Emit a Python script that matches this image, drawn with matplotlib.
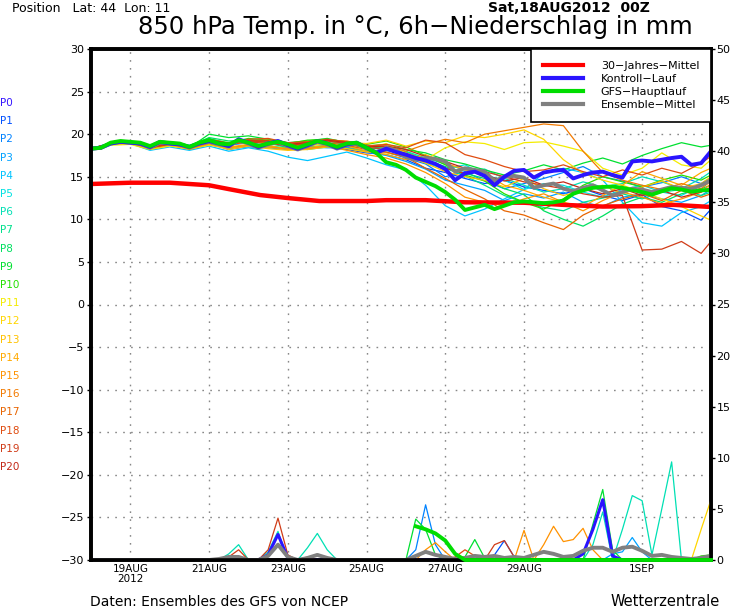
import numpy as np
import matplotlib
matplotlib.use("Agg")
import matplotlib.pyplot as plt

# time axis in days after 18AUG2012 00Z
t6 = np.arange(64) * 0.25
t12 = np.append(np.arange(32) * 0.5, 15.75)
clim_days = [0, 1, 2, 3, 3.5, 4.3, 5, 5.8, 7, 7.5, 8.5, 9.5, 11, 12, 13, 14, 14.8, 15.75]

# 850 hPa temperature
clim = [14.15, 14.3, 14.3, 14.0, 13.55, 12.85, 12.5, 12.15, 12.15, 12.25, 12.25, 12.0, 11.95, 11.7, 11.5, 11.55, 11.7, 11.45]

ens_mean = [18.3, 18.4, 18.9, 19.1, 19.0, 18.9, 18.4, 19.0, 18.9, 18.8, 18.4, 18.9, 19.1, 18.8, 18.6, 19.3,
            18.9, 18.4, 18.8, 19.1, 18.6, 18.2, 18.6, 19.1, 18.8, 18.3, 18.7, 18.9, 18.3, 17.9, 18.4, 18.1,
            17.3, 17.0, 17.2, 17.1, 16.8, 15.6, 16.0, 15.8, 15.6, 14.5, 15.0, 15.1, 14.9, 13.7, 14.0, 14.2,
            13.6, 13.3, 13.7, 14.0, 13.4, 12.8, 13.2, 13.6, 13.5, 13.2, 13.5, 13.8, 13.7, 13.6, 14.0, 14.6]

control = [18.3, 18.4, 18.9, 19.1, 19.0, 18.9, 18.5, 19.1, 18.9, 18.8, 18.5, 18.9, 19.2, 18.9, 18.6, 19.4,
           19.0, 18.5, 18.9, 19.2, 18.7, 18.3, 18.7, 19.2, 18.9, 18.4, 18.8, 19.0, 18.4, 17.8, 18.3, 17.9,
           17.6, 17.2, 16.9, 16.5, 15.9, 14.6, 15.4, 15.6, 15.1, 14.0, 15.0, 15.7, 15.8, 14.9, 15.5, 15.7,
           15.8, 14.8, 15.2, 15.5, 15.6, 15.2, 14.9, 16.8, 16.9, 16.8, 17.0, 17.2, 17.35, 16.4, 16.6, 18.0]

gfs = [18.3, 18.4, 19.0, 19.2, 19.1, 19.0, 18.6, 19.1, 19.0, 18.9, 18.5, 19.0, 19.3, 18.9, 18.8, 19.3,
       19.0, 18.6, 18.9, 19.1, 18.8, 18.4, 18.8, 19.2, 18.9, 18.5, 18.9, 19.0, 18.4, 17.8, 16.7, 16.4,
       15.8, 14.9, 14.4, 13.9, 13.2, 12.3, 11.1, 11.4, 11.7, 11.2, 11.6, 12.0, 12.1, 12.0, 11.9, 12.0,
       12.2, 13.0, 13.4, 13.7, 13.8, 13.85, 13.7, 13.45, 13.2, 12.9, 13.3, 13.65, 13.5, 13.25, 13.4, 13.45]

members = [
    [18.3, 18.9, 19.0, 18.2, 18.7, 18.3, 19.0, 18.2, 18.6, 18.5, 18.2, 18.3, 18.6, 18.2, 17.8, 17.6,
     17.0, 16.0, 15.5, 14.8, 14.2, 14.6, 13.8, 13.4, 13.0, 13.6, 12.8, 12.2, 12.9, 11.5, 11.0, 9.9, 11.2],
    [18.2, 18.8, 18.9, 18.3, 18.8, 18.5, 19.2, 18.7, 19.0, 19.1, 18.4, 18.8, 19.0, 18.5, 18.0, 17.9,
     17.2, 16.5, 15.0, 15.6, 14.5, 13.6, 14.2, 14.8, 15.5, 16.2, 15.0, 14.5, 13.8, 14.3, 15.0, 14.2, 14.9],
    [18.3, 19.0, 19.1, 18.5, 19.0, 18.2, 18.8, 18.3, 18.5, 18.4, 18.2, 18.5, 18.4, 18.4, 17.9, 17.5,
     16.8, 15.9, 14.6, 14.0, 13.4, 12.2, 13.0, 12.5, 13.2, 12.0, 11.5, 12.6, 13.0, 12.4, 12.0, 12.8, 13.5],
    [18.4, 18.8, 18.9, 18.1, 18.5, 18.1, 18.6, 18.0, 18.4, 18.0, 17.3, 16.9, 17.4, 17.9, 17.2, 16.4,
     15.8, 14.0, 11.6, 10.4, 11.2, 12.4, 13.5, 15.4, 16.0, 15.5, 14.6, 12.0, 9.6, 9.2, 10.8, 11.5, 12.2],
    [18.3, 18.9, 19.1, 18.6, 19.0, 18.6, 19.3, 18.9, 19.2, 19.0, 18.7, 18.9, 18.9, 19.0, 18.4, 18.2,
     17.5, 16.6, 15.9, 16.4, 15.2, 14.6, 13.5, 14.2, 14.0, 13.2, 12.6, 13.5, 14.0, 13.2, 12.8, 14.0, 14.6],
    [18.2, 18.8, 19.0, 18.4, 18.9, 18.5, 19.1, 18.6, 19.4, 19.2, 18.9, 18.5, 18.7, 18.9, 18.5, 18.3,
     18.0, 17.2, 16.5, 15.8, 15.9, 14.8, 14.0, 13.2, 13.6, 14.4, 13.8, 14.2, 15.0, 14.4, 13.6, 14.8, 15.6],
    [18.3, 18.9, 19.0, 18.5, 19.1, 18.7, 19.5, 18.9, 19.1, 18.6, 18.4, 18.2, 18.5, 18.3, 18.0, 18.1,
     17.6, 16.8, 16.0, 15.1, 14.0, 12.8, 12.0, 11.4, 11.0, 12.0, 12.5, 13.0, 12.4, 13.2, 13.5, 12.8, 13.2],
    [18.3, 18.9, 19.0, 18.4, 18.9, 18.6, 19.6, 19.2, 19.3, 18.9, 18.5, 18.9, 19.2, 18.8, 18.4, 18.5,
     17.9, 17.0, 16.2, 15.4, 14.8, 13.6, 12.9, 11.0, 10.0, 9.2, 10.4, 11.8, 12.6, 12.0, 13.0, 13.6, 14.0],
    [18.2, 18.8, 18.9, 18.3, 18.8, 18.4, 20.0, 19.6, 19.8, 19.4, 19.0, 19.2, 19.5, 19.0, 18.6, 18.8,
     18.2, 17.8, 17.0, 16.5, 15.8, 15.2, 15.7, 16.4, 15.8, 16.6, 17.2, 16.5, 17.5, 18.3, 19.0, 18.5, 18.7],
    [18.3, 18.9, 19.0, 18.4, 18.9, 18.5, 19.4, 19.0, 19.5, 19.3, 18.9, 19.3, 19.4, 19.1, 18.8, 19.2,
     18.5, 17.5, 16.4, 15.2, 14.5, 13.0, 12.0, 11.2, 12.4, 14.0, 15.0, 14.4, 13.8, 14.6, 15.2, 14.6, 15.2],
    [18.4, 18.7, 18.8, 18.2, 18.6, 18.3, 18.7, 18.4, 18.7, 18.5, 18.3, 18.6, 18.9, 18.6, 18.3, 18.9,
     17.8, 17.0, 18.4, 19.1, 18.9, 18.2, 19.0, 19.1, 18.6, 18.0, 16.0, 15.2, 16.0, 17.8, 16.4, 16.0, 17.0],
    [18.3, 18.9, 19.0, 18.5, 18.9, 18.4, 19.0, 18.8, 19.1, 19.0, 18.8, 19.0, 19.2, 19.0, 18.9, 19.3,
     18.6, 19.2, 19.0, 19.8, 19.6, 20.0, 20.5, 19.4, 17.0, 15.4, 14.6, 14.0, 13.2, 12.4, 11.5, 10.4, 9.9],
    [18.3, 18.8, 18.9, 18.3, 18.7, 18.2, 18.8, 18.2, 18.6, 18.3, 18.1, 18.2, 18.5, 18.3, 17.9, 17.8,
     17.4, 16.6, 15.6, 15.0, 14.6, 13.8, 14.8, 13.6, 12.8, 13.4, 14.0, 13.0, 13.8, 14.5, 13.6, 14.2, 15.0],
    [18.2, 18.9, 19.1, 18.5, 19.0, 18.5, 19.1, 18.5, 18.8, 18.7, 18.2, 18.4, 18.7, 18.6, 18.0, 17.6,
     17.0, 17.6, 16.6, 15.8, 15.4, 14.0, 13.4, 12.6, 12.0, 11.5, 12.8, 14.0, 15.6, 14.8, 14.0, 15.5, 16.0],
    [18.3, 18.9, 19.0, 18.4, 18.8, 18.3, 18.9, 18.4, 18.7, 18.5, 18.3, 18.3, 18.6, 18.1, 17.6, 17.2,
     16.5, 15.5, 14.2, 12.6, 12.0, 11.6, 12.4, 13.0, 12.0, 11.0, 12.2, 13.2, 12.6, 11.8, 12.4, 13.2, 14.2],
    [18.3, 18.9, 19.0, 18.5, 19.0, 18.5, 19.2, 18.8, 19.2, 19.3, 18.8, 19.1, 19.3, 19.2, 18.7, 18.6,
     18.0, 18.8, 19.4, 19.0, 20.0, 20.4, 20.8, 21.2, 21.0, 18.0, 15.5, 14.6, 14.0, 13.5, 14.2, 13.6, 14.5],
    [18.3, 18.9, 19.0, 18.4, 18.9, 18.4, 19.0, 18.7, 19.3, 19.0, 18.6, 18.8, 19.0, 18.7, 18.2, 17.9,
     17.3, 16.0, 14.8, 13.5, 12.4, 11.0, 10.5, 9.6, 8.8, 10.5, 11.6, 12.4, 13.0, 12.2, 13.4, 12.6, 13.0],
    [18.3, 18.9, 19.1, 18.5, 19.0, 18.6, 19.4, 18.9, 19.4, 19.5, 19.0, 19.1, 19.4, 19.1, 18.6, 18.8,
     18.4, 19.3, 19.0, 17.6, 17.0, 16.2, 15.6, 15.8, 16.4, 15.6, 15.0, 15.8, 15.2, 16.0, 15.4, 16.6, 17.4],
    [18.3, 18.9, 19.0, 18.4, 18.8, 18.5, 19.1, 18.8, 19.1, 18.9, 18.7, 18.9, 19.2, 18.9, 18.4, 18.3,
     17.7, 17.0, 16.0, 15.4, 15.6, 15.0, 14.4, 14.0, 13.6, 13.0, 12.6, 12.8, 6.4, 6.5, 7.4, 6.0, 7.4],
    [18.3, 18.9, 19.0, 18.5, 19.0, 18.5, 19.3, 18.9, 19.2, 19.2, 18.8, 19.0, 19.3, 19.0, 18.5, 18.6,
     18.2, 17.4, 16.8, 16.0, 15.2, 14.5, 14.9, 14.0, 14.4, 13.6, 13.0, 13.6, 12.8, 13.4, 12.6, 13.2, 13.8],
]

member_labels = ["P%d" % i for i in range(21)]
member_colors = ["#3414ff", "#0050ff", "#0082ff", "#00a2ff", "#00c4ff", "#00e2e2", "#00e0b4",
                 "#00e08c", "#00e060", "#00e030", "#24e000", "#f4ec00", "#ffd600", "#ffc200",
                 "#ffaa00", "#ff9200", "#f27a00", "#e86400", "#e04c10", "#d03c18", "#c22818"]

# 6h precipitation (mm), only members with rain
ctrl_p = [0]*18 + [0.5, 2.5, 0.2] + [0]*29 + [0.6, 3.0, 5.9, 0.4] + [0]*10
gfs_p_start = 33
gfs_p = [3.3, 3.0, 2.6, 1.9, 0.6, 0.0] + [0]*25
mean_p = [0]*13 + [0.1, 0.3, 0.3, 0.0, 0.0, 0.4, 1.5, 0.3, 0.0, 0.2, 0.5, 0.2, 0.0, 0.0, 0.0, 0.0, 0.0,
          0.0, 0.0, 0.0, 0.4, 0.8, 0.5, 0.3, 0.1, 0.2, 0.4, 0.3, 0.4, 0.2, 0.3, 0.2, 0.5, 0.8, 0.6,
          0.3, 0.4, 0.9, 1.2, 1.2, 0.8, 1.2, 1.3, 0.9, 0.4, 0.5, 0.3, 0.2, 0.1, 0.2, 0.4]
member_p = {
    1: [0]*41 + [0.5, 1.9, 0.3] + [0]*20,
    2: [0]*33 + [1.0, 5.4, 1.5] + [0]*28,
    3: [0]*53 + [0.6, 0.8, 2.2, 0.8] + [0]*7,
    6: [0]*14 + [0.6, 1.5, 0.0, 0.0, 0.8, 2.8, 0.0, 0.0, 1.2, 2.6, 1.0] + [0]*26
       + [1.5, 4.7, 0.0, 3.0, 6.3, 5.8, 0.5, 5.0, 9.6, 0.0, 0.0, 0.0, 0.0],
    9: [0]*32 + [0.0, 4.0, 3.0, 0.5, 0.0, 0.0, 0.3, 2.0, 0.2] + [0]*10 + [3.5, 6.9, 1.0] + [0]*10,
    10: [0]*62 + [0.4, 0.5],
    12: [0]*61 + [0.0, 3.0, 5.9],
    15: [0]*22 + [0.3] + [0]*11 + [1.0, 1.7, 0.8] + [0]*7 + [2.9, 0.0, 1.5, 3.3, 1.8, 2.0, 3.1, 1.0] + [0]*12,
    18: [0]*37 + [0.3, 1.0, 0.4] + [0]*24,
    19: [0]*14 + [0.3, 1.0, 0.0, 0.0, 1.0, 4.1, 0.5] + [0]*20 + [1.5, 1.9, 0.3] + [0]*20,
}

date_ticks = [1, 3, 5, 7, 9, 11, 14]
date_labels = ["19AUG\n2012", "21AUG", "23AUG", "25AUG", "27AUG", "29AUG", "1SEP"]

fig = plt.figure(figsize=(7.3, 6.09), dpi=100)
ax = fig.add_axes([91/730, 49/609, 620/730, 511/609])
ax2 = ax.twinx()

grid_style = dict(color="#888888", lw=1, ls=(0, (1.2, 4.5)), zorder=0)
for d in date_ticks:
    ax.axvline(d, **grid_style)
for v in range(-25, 30, 5):
    ax.axhline(v, **grid_style)

for i in range(1, 21):
    ax.plot(t12, members[i - 1], color=member_colors[i], lw=0.9, zorder=2)
ax.plot(clim_days, clim, color="#ff0000", lw=3.2, zorder=3, solid_capstyle="butt")
ax.plot(t6, ens_mean, color="#808080", lw=2.8, zorder=4)
ax.plot(t6, control, color="#2a14ff", lw=2.8, zorder=5)
ax.plot(t6, gfs, color="#00dd00", lw=2.8, zorder=6)

for i, p in member_p.items():
    ax2.plot(t6, p, color=member_colors[i], lw=0.9, zorder=2)
ax2.plot(t6, ctrl_p, color="#2a14ff", lw=2.2, zorder=3)
ax2.plot(t6, mean_p, color="#808080", lw=2.8, zorder=4)
ax2.plot(t6[gfs_p_start:], gfs_p, color="#00dd00", lw=2.8, zorder=11, clip_on=False)

ax.set_xlim(0, 15.75)
ax.set_ylim(-30, 30)
ax2.set_ylim(0, 50)
ax.set_yticks(range(-30, 31, 5))
ax.set_yticklabels([str(v).replace("-", "\u2212") for v in range(-30, 31, 5)])
ax2.set_yticks(range(0, 51, 5))
ax.set_xticks(date_ticks)
ax.set_xticklabels(date_labels, fontsize=7.5, linespacing=0.95)
ax.tick_params(axis="x", length=0, pad=3)
ax.tick_params(axis="y", direction="out", length=3, width=1, labelsize=8, pad=2)
ax2.tick_params(axis="y", direction="out", length=3, width=1, labelsize=8, pad=1)
for a in (ax, ax2):
    for s in a.spines.values():
        s.set_linewidth(2.6)
        s.set_zorder(10)

handles = [plt.Line2D([], [], color="#ff0000", lw=3),
           plt.Line2D([], [], color="#2a14ff", lw=3),
           plt.Line2D([], [], color="#00dd00", lw=3),
           plt.Line2D([], [], color="#808080", lw=3)]
leg = ax2.legend(handles, ["30\u2212Jahres\u2212Mittel", "Kontroll\u2212Lauf", "GFS\u2212Hauptlauf", "Ensemble\u2212Mittel"],
                 loc="upper right", borderaxespad=0, fancybox=False, edgecolor="black", framealpha=1,
                 fontsize=8, handlelength=3.6, handletextpad=1.6, borderpad=1.05, labelspacing=0.28)
leg.get_frame().set_linewidth(1.2)
leg.set_zorder(20)

for i, lab in enumerate(member_labels):
    fig.text(0.0, 1 - (103 + i * 18.2) / 609, lab, color=member_colors[i], fontsize=7.5,
             ha="left", va="center")

fig.text(12/730, 1 - 8/609, "Position   Lat: 44  Lon: 11", fontsize=9, ha="left", va="center")
fig.text(650/730, 1 - 8/609, "Sat,18AUG2012  00Z", fontsize=10, fontweight="bold", ha="right", va="center")
fig.text(415/730, 1 - 27/609, "850 hPa Temp. in \u00b0C, 6h\u2212Niederschlag in mm", fontsize=17.5,
         ha="center", va="center")
fig.text(90/730, 1 - 602/609, "Daten: Ensembles des GFS von NCEP", fontsize=10, ha="left", va="center")
fig.text(720/730, 1 - 602/609, "Wetterzentrale", fontsize=10.5, ha="right", va="center")

fig.savefig("out.png", dpi=100)
